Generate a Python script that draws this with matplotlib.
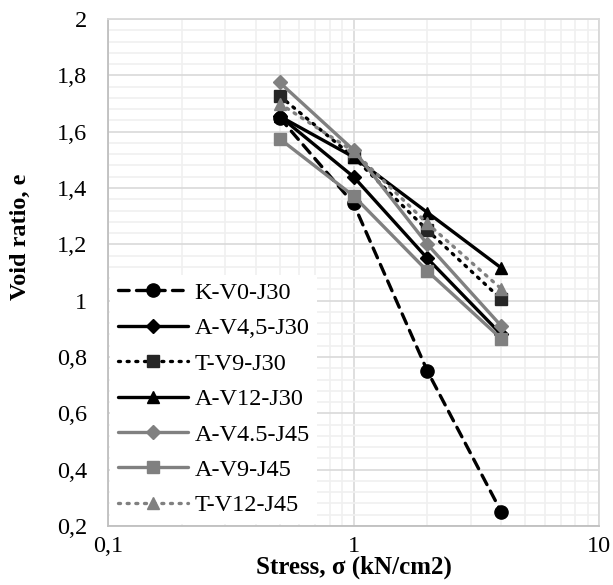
import matplotlib
matplotlib.use('Agg')
import matplotlib.pyplot as plt
from matplotlib.ticker import FixedLocator, FuncFormatter, LogLocator, MultipleLocator

plt.rcParams['font.family'] = ['Liberation Serif', 'DejaVu Serif']

# data
stress = [0.5, 1, 2, 4]
k_v0_j30 = [1.65, 1.345, 0.75, 0.25]
a_v45_j30 = [1.655, 1.44, 1.15, 0.88]
t_v9_j30 = [1.727, 1.51, 1.25, 1.005]
a_v12_j30 = [1.655, 1.51, 1.313, 1.116]
a_v45_j45 = [1.775, 1.535, 1.20, 0.91]
a_v9_j45 = [1.575, 1.372, 1.105, 0.865]
t_v12_j45 = [1.70, 1.53, 1.274, 1.042]

labels = ['K-V0-J30', 'A-V4,5-J30', 'T-V9-J30', 'A-V12-J30',
          'A-V4.5-J45', 'A-V9-J45', 'T-V12-J45']

BLK = '#000000'
GRY = '#808080'
dot = (0, (0.6, 2.0))
dash = (0, (3.2, 2.2))

series = [
    (k_v0_j30, BLK, dash, 'o', 9.5),
    (a_v45_j30, BLK, '-', 'D', 7),
    (t_v9_j30, BLK, dot, 's', 8.5),
    (a_v12_j30, BLK, '-', '^', 9),
    (a_v45_j45, GRY, '-', 'D', 7),
    (a_v9_j45, GRY, '-', 's', 8.5),
    (t_v12_j45, GRY, dot, '^', 9),
]

fig = plt.figure(figsize=(6.13, 5.85), dpi=100)
fig.patch.set_facecolor('white')
ax = fig.add_axes([108/613, 1-526/585, (599-108)/613, (526-19)/585])

for (vals, col, ls, mk, ms), lab in zip(series, labels):
    mc = '#262626' if (col == BLK and mk == 's') else col
    ax.plot(stress, vals, color=col, linestyle=ls, linewidth=2.4, marker=mk,
            markersize=ms, markerfacecolor=mc, markeredgecolor=mc,
            dash_capstyle='round', solid_capstyle='round', label=lab, zorder=3)

ax.set_xscale('log')
ax.set_xlim(0.1, 10)
ax.set_ylim(0.2, 2.0)

ax.xaxis.set_major_locator(FixedLocator([0.1, 1, 10]))
ax.xaxis.set_minor_locator(LogLocator(base=10, subs=range(2, 10)))
ax.yaxis.set_major_locator(MultipleLocator(0.2))
ax.yaxis.set_minor_locator(MultipleLocator(0.04))

fmt = FuncFormatter(lambda v, p: ('%g' % round(v, 2)).replace('.', ','))
ax.xaxis.set_major_formatter(fmt)
ax.yaxis.set_major_formatter(fmt)
ax.xaxis.set_minor_formatter(FuncFormatter(lambda v, p: ''))

ax.grid(which='major', color='#d9d9d9', linewidth=1.2, zorder=0)
ax.grid(which='minor', color='#f0f0f0', linewidth=1.2, zorder=0)
ax.set_axisbelow(True)

ax.tick_params(which='both', length=0, labelsize=17.5)
ax.tick_params(axis='y', pad=15)
ax.tick_params(axis='x', pad=7)

for side in ['left', 'bottom']:
    ax.spines[side].set_color('#bfbfbf')
    ax.spines[side].set_linewidth(1.3)
for side in ['top', 'right']:
    ax.spines[side].set_color('#d9d9d9')
    ax.spines[side].set_linewidth(1.3)

ax.set_xlabel('Stress, σ (kN/cm2)', fontsize=18, fontweight='bold', labelpad=-1)
ax.set_ylabel('Void ratio, e', fontsize=17.5, fontweight='bold')
ax.yaxis.set_label_coords(-0.157, 0.57)

leg = ax.legend(loc='lower left', bbox_to_anchor=(0, 0), fontsize=17.5,
                frameon=True, fancybox=False, framealpha=1, borderaxespad=0.1,
                handlelength=2.9, labelspacing=0.55, handletextpad=0.25,
                borderpad=0.3)
leg.get_frame().set_edgecolor('white')
leg.get_frame().set_linewidth(0)
leg.set_zorder(5)

fig.savefig('out.png', dpi=100, facecolor='white')
